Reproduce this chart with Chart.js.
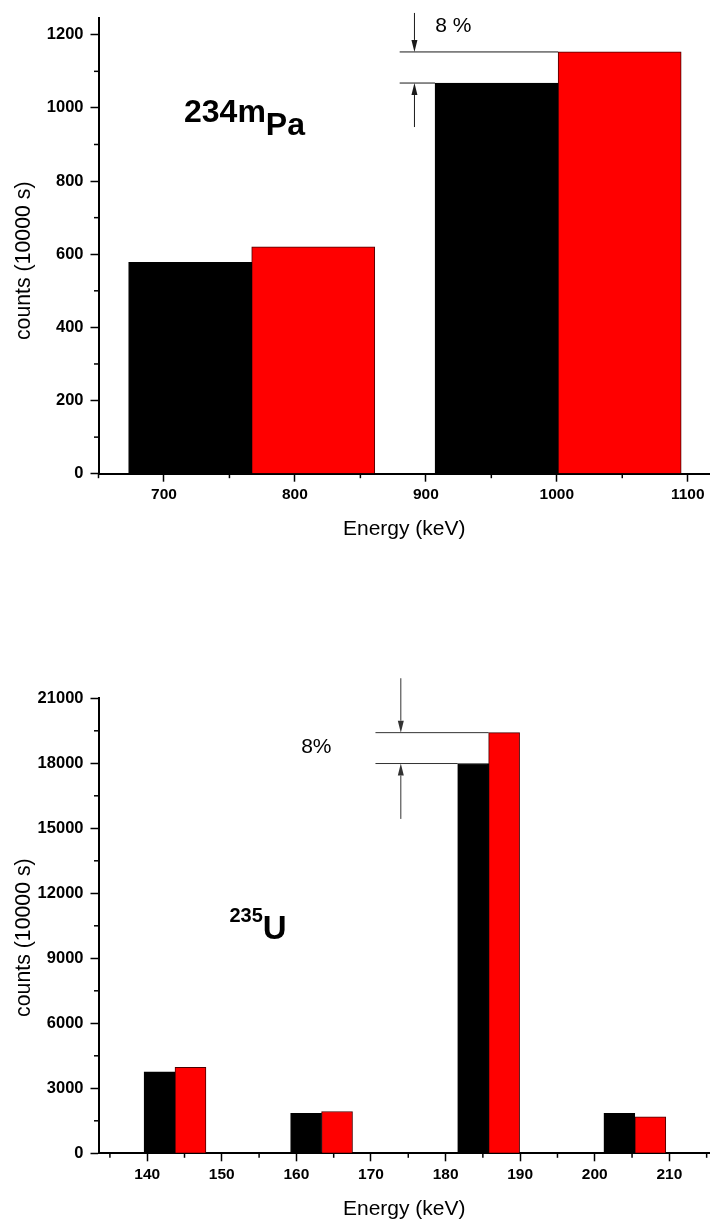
<!DOCTYPE html>
<html>
<head>
<meta charset="utf-8">
<script src="https://cdn.jsdelivr.net/npm/chart.js@4.4.1/dist/chart.umd.min.js"></script>
<style>
	html, body { margin: 0; padding: 0; background: #fff; overflow: hidden; }
	canvas { display: block; position: absolute; left: 0; }
	#graficoPa { top: 0; }
	#graficoU { top: 560px; }
</style>
</head>
<body>
<canvas id="graficoPa" width="710" height="560"></canvas>
<canvas id="graficoU" width="710" height="660"></canvas>
<script>
// 234mPa - centro das barras (keV) e contagens
var paPretoX = [720, 954];
var paPretoY = [578, 1068];
var paVermelhoX = [814, 1048];
var paVermelhoY = [620, 1153];
var paTicksX = [700, 800, 900, 1000, 1100];
var paTicksY = [0, 200, 400, 600, 800, 1000, 1200];

// 235U
var uPretoX = [141.65, 161.3, 183.7, 203.3];
var uPretoY = [3755, 1840, 17990, 1840];
var uVermelhoX = [145.8, 165.45, 187.85, 207.45];
var uVermelhoY = [3970, 1930, 19415, 1685];
var uTicksX = [140, 150, 160, 170, 180, 190, 200, 210];
var uTicksY = [0, 3000, 6000, 9000, 12000, 15000, 18000, 21000];

var FONTE = "'Liberation Sans', Arial, Helvetica, sans-serif";

var Espectro = Espectro || {};

// pequenos tracos entre os ticks principais
Espectro.tracosMenores = {
	id: 'tracosMenores',
	afterDraw: function(chart, args, opts) {
		var ctx = chart.ctx;
		ctx.save();
		ctx.strokeStyle = '#000';
		ctx.lineWidth = opts.largura;
		['x', 'y'].forEach(function(id) {
			var s = chart.scales[id];
			var v = s.ticks.map(function(t) { return t.value; });
			var meio = (v[1] - v[0]) / 2;
			var valores = [];
			for (var a = v[0] - meio; a >= s.min - 1e-6; a -= 2 * meio) valores.push(a);
			for (var b = v[0] + meio; b <= s.max + 1e-6; b += 2 * meio) valores.push(b);
			valores.forEach(function(val) {
				var p = s.getPixelForValue(val);
				ctx.beginPath();
				if (id === 'x') {
					ctx.moveTo(p, s.top);
					ctx.lineTo(p, s.top + opts.comprimento);
				} else {
					ctx.moveTo(s.right - opts.comprimento, p);
					ctx.lineTo(s.right, p);
				}
				ctx.stroke();
			});
		});
		ctx.restore();
	}
};

function seta(ctx, x, y0, y1) {
	var dir = y1 > y0 ? 1 : -1;
	var cabeca = 12, meia = 3;
	ctx.beginPath();
	ctx.moveTo(x, y0);
	ctx.lineTo(x, y1 - dir * cabeca);
	ctx.stroke();
	ctx.beginPath();
	ctx.moveTo(x, y1);
	ctx.lineTo(x - meia, y1 - dir * cabeca);
	ctx.lineTo(x + meia, y1 - dir * cabeca);
	ctx.closePath();
	ctx.fill();
}

// marca da diferenca de 8 % entre as duas barras
Espectro.diferenca = {
	id: 'diferenca',
	afterDatasetsDraw: function(chart, args, o) {
		var ctx = chart.ctx;
		var preto = chart.getDatasetMeta(0).data[o.indice];
		var verm = chart.getDatasetMeta(1).data[o.indice];
		var sx = chart.scales.x, sy = chart.scales.y;
		var x0 = sx.getPixelForValue(o.inicioX);
		var xs = sx.getPixelForValue(o.setaX);
		ctx.save();
		ctx.strokeStyle = o.cor;
		ctx.fillStyle = o.cor;
		ctx.lineWidth = 1;
		ctx.beginPath();
		ctx.moveTo(x0, verm.y);
		ctx.lineTo(verm.x - verm.width / 2, verm.y);
		ctx.moveTo(x0, preto.y);
		ctx.lineTo(preto.x - preto.width / 2, preto.y);
		ctx.stroke();
		seta(ctx, xs, verm.y - o.acima, verm.y);
		seta(ctx, xs, preto.y + o.abaixo, preto.y);
		ctx.fillStyle = '#000';
		ctx.font = '21px ' + FONTE;
		ctx.textBaseline = 'alphabetic';
		ctx.textAlign = 'left';
		ctx.fillText(o.texto, sx.getPixelForValue(o.textoX), sy.getPixelForValue(o.textoY));
		ctx.restore();
	}
};

// nome do nuclideo
Espectro.rotulo = {
	id: 'rotulo',
	afterDatasetsDraw: function(chart, args, o) {
		var ctx = chart.ctx;
		var x = chart.scales.x.getPixelForValue(o.x);
		var y = chart.scales.y.getPixelForValue(o.y);
		ctx.save();
		ctx.fillStyle = '#000';
		ctx.textBaseline = 'alphabetic';
		ctx.textAlign = 'left';
		o.partes.forEach(function(p) {
			ctx.font = 'bold ' + p.tam + 'px ' + FONTE;
			ctx.fillText(p.t, x, y + p.dy);
			x += ctx.measureText(p.t).width;
		});
		ctx.restore();
	}
};

Espectro.Grafico = (function() {

	function Grafico(canvasId, cfg) {
		this.ctx = document.getElementById(canvasId).getContext('2d');
		this.cfg = cfg;
	}

	function pares(xs, ys) {
		return xs.map(function(x, i) { return { x: x, y: ys[i] }; });
	}

	Grafico.prototype.iniciar = function() {
		var c = this.cfg;
		var base = { grouped: false, barPercentage: 1, categoryPercentage: 1, borderWidth: 1 };
		new Chart(this.ctx, {
			type: 'bar',
			data: {
				datasets: [
					Object.assign({ label: 'medido', data: pares(c.pretoX, c.pretoY), backgroundColor: '#000000', borderColor: '#000000' }, base),
					Object.assign({ label: 'simulado', data: pares(c.vermX, c.vermY), backgroundColor: '#ff0000', borderColor: '#4a0000' }, base)
				]
			},
			plugins: [Espectro.tracosMenores, Espectro.diferenca, Espectro.rotulo],
			options: {
				responsive: false,
				animation: false,
				devicePixelRatio: 1,
				layout: { padding: { top: c.topo, left: 0, right: 0, bottom: 0 } },
				plugins: {
					legend: { display: false },
					tooltip: { enabled: false },
					tracosMenores: { comprimento: 4.5, largura: 1.5 },
					diferenca: c.diferenca,
					rotulo: c.rotulo
				},
				scales: {
					x: {
						type: 'linear',
						min: c.xMin,
						max: c.xMax,
						offset: false,
						afterBuildTicks: function(s) { s.ticks = c.ticksX.map(function(v) { return { value: v }; }); },
						afterFit: function(s) { s.height = c.alturaX; },
						grid: { drawOnChartArea: false, drawTicks: true, tickLength: 8, tickWidth: 1.5, tickColor: '#000', offset: false },
						border: { display: true, color: '#000', width: 2 },
						ticks: {
							color: '#000', padding: c.padTickX, maxRotation: 0, autoSkip: false,
							font: { family: FONTE, size: 15.5, weight: 'bold', lineHeight: 1.2 },
							callback: function(v) { return String(v); }
						},
						title: {
							display: true, text: 'Energy (keV)', color: '#000',
							font: { family: FONTE, size: 21, lineHeight: 1 },
							padding: { top: 0, bottom: c.padTituloX }
						}
					},
					y: {
						min: 0,
						max: c.yMax,
						afterBuildTicks: function(s) { s.ticks = c.ticksY.map(function(v) { return { value: v }; }); },
						afterFit: function(s) { s.width = 98.5; },
						grid: { drawOnChartArea: false, drawTicks: true, tickLength: 8, tickWidth: 1.5, tickColor: '#000' },
						border: { display: true, color: '#000', width: 2 },
						ticks: {
							color: '#000', padding: 7,
							font: { family: FONTE, size: 16.5, weight: 'bold' },
							callback: function(v) { return String(v); }
						},
						title: {
							// espacos no fim descem o texto, como no original
							display: true, text: 'counts (10000 s)' + c.recuoTituloY, color: '#000',
							font: { family: FONTE, size: 21.3, lineHeight: 1 },
							padding: { top: 13.7, bottom: 0 }
						}
					}
				}
			}
		});
	};

	return Grafico;

}());

var graficoPa = new Espectro.Grafico('graficoPa', {
	pretoX: paPretoX, pretoY: paPretoY, vermX: paVermelhoX, vermY: paVermelhoY,
	ticksX: paTicksX, ticksY: paTicksY,
	xMin: 650, xMax: 1117, yMax: 1245,
	topo: 18.3, alturaX: 86.3, padTickX: 3.5, padTituloX: 20,
	recuoTituloY: '\u00a0\u00a0\u00a0\u00a0\u00a0',
	diferenca: { indice: 1, inicioX: 880, setaX: 891.3, acima: 39, abaixo: 44, texto: '8 %', textoX: 907.2, textoY: 1207, cor: '#1a1a1a' },
	rotulo: { x: 715.3, y: 962, partes: [{ t: '234m', tam: 32, dy: 0 }, { t: 'Pa', tam: 32, dy: 12.8 }] }
});
graficoPa.iniciar();

var graficoU = new Espectro.Grafico('graficoU', {
	pretoX: uPretoX, pretoY: uPretoY, vermX: uVermelhoX, vermY: uVermelhoY,
	ticksX: uTicksX, ticksY: uTicksY,
	xMin: 133.47, xMax: 215.45, yMax: 21000,
	topo: 138.3, alturaX: 66.7, padTickX: 4, padTituloX: 0,
	recuoTituloY: '\u00a0\u00a0\u00a0\u00a0',
	diferenca: { indice: 2, inicioX: 170.6, setaX: 174.0, acima: 54.4, abaixo: 55.4, texto: '8%', textoX: 160.64, textoY: 18478, cor: '#333' },
	rotulo: { x: 151.03, y: 10688, partes: [{ t: '235', tam: 20, dy: 0 }, { t: 'U', tam: 33, dy: 17.3 }] }
});
graficoU.iniciar();
</script>
</body>
</html>
